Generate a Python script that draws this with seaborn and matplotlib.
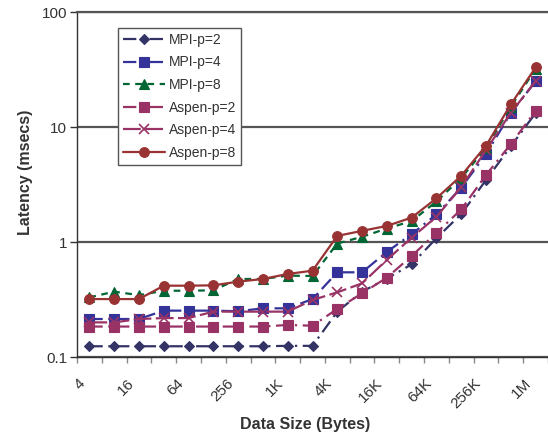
import pandas as pd
import seaborn as sns
import matplotlib.pyplot as plt
import numpy as np

# data sizes 4 bytes .. 1M (powers of two)
sizes = ['4', '8', '16', '32', '64', '128', '256', '512', '1K', '2K',
         '4K', '8K', '16K', '32K', '64K', '128K', '256K', '512K', '1M']

mpi_p2 = [0.124, 0.124, 0.124, 0.124, 0.124, 0.124, 0.124, 0.124, 0.125, 0.125,
          0.248, 0.37, 0.48, 0.64, 1.08, 1.75, 3.46, 6.8, 13.2]
mpi_p4 = [0.214, 0.214, 0.214, 0.253, 0.253, 0.253, 0.25, 0.265, 0.265, 0.319,
          0.545, 0.545, 0.82, 1.17, 1.74, 2.97, 5.8, 13.2, 25]
mpi_p8 = [0.33, 0.37, 0.345, 0.377, 0.377, 0.38, 0.477, 0.477, 0.51, 0.506,
          0.97, 1.11, 1.31, 1.52, 2.25, 3.6, 6.6, 15.0, 32]
aspen_p2 = [0.184, 0.184, 0.184, 0.184, 0.184, 0.184, 0.184, 0.184, 0.19, 0.187,
            0.262, 0.358, 0.49, 0.756, 1.2, 1.92, 3.83, 7.1, 13.8]
aspen_p4 = [0.2, 0.2, 0.214, 0.218, 0.218, 0.248, 0.248, 0.248, 0.248, 0.313,
            0.365, 0.437, 0.70, 1.09, 1.66, 3.0, 6.3, 13.3, 25]
aspen_p8 = [0.319, 0.319, 0.319, 0.417, 0.417, 0.42, 0.452, 0.477, 0.527, 0.563,
            1.13, 1.25, 1.38, 1.63, 2.4, 3.77, 6.88, 15.7, 33]

series = {'MPI-p=2': mpi_p2, 'MPI-p=4': mpi_p4, 'MPI-p=8': mpi_p8,
          'Aspen-p=2': aspen_p2, 'Aspen-p=4': aspen_p4, 'Aspen-p=8': aspen_p8}

palette = {'MPI-p=2': '#333366', 'MPI-p=4': '#333399', 'MPI-p=8': '#006633',
           'Aspen-p=2': '#993366', 'Aspen-p=4': '#993366', 'Aspen-p=8': '#993333'}
markers = {'MPI-p=2': 'D', 'MPI-p=4': 's', 'MPI-p=8': '^',
           'Aspen-p=2': 's', 'Aspen-p=4': 'x', 'Aspen-p=8': 'o'}
dashes = {'MPI-p=2': (6, 2.5, 1, 2.5), 'MPI-p=4': (6, 2.5, 1, 2.5), 'MPI-p=8': (3, 2.5),
          'Aspen-p=2': (6, 2.5, 1, 2.5), 'Aspen-p=4': (8, 2), 'Aspen-p=8': None}
msizes = {'MPI-p=2': 5, 'MPI-p=4': 6.5, 'MPI-p=8': 7,
          'Aspen-p=2': 6.5, 'Aspen-p=4': 6.5, 'Aspen-p=8': 7}

sns.set_style('white')
plt.rcParams['font.family'] = ['Liberation Sans', 'DejaVu Sans']

fig = plt.figure(figsize=(5.48, 4.40), dpi=100)
ax = fig.add_axes([77 / 548, 1 - 357 / 440, 471 / 548, 345 / 440])

pos = np.arange(len(sizes))
for name, vals in series.items():
    sns.lineplot(x=pos, y=vals, ax=ax, color=palette[name], linewidth=1.6,
                 marker=markers[name], markersize=msizes[name],
                 markeredgecolor=palette[name], markeredgewidth=1.2 if name == 'Aspen-p=4' else 0.8,
                 label=name)
    line = ax.get_lines()[-1]
    if dashes[name] is not None:
        line.set_dashes(dashes[name])

ax.set_yscale('log')
ax.set_ylim(0.1, 100)
ax.set_xlim(-0.5, len(sizes) - 0.5)

ax.set_yticks([0.1, 1, 10, 100])
ax.set_yticklabels(['0.1', '1', '10', '100'])
ax.yaxis.set_minor_locator(plt.NullLocator())
ax.tick_params(axis='y', which='major', left=True, length=5, width=1,
               color='#333333', labelsize=11, labelcolor='#333333', pad=2)

# category boundaries as ticks, labels every other category
ax.set_xticks(np.arange(len(sizes) + 1) - 0.5)
ax.set_xticklabels([''] * (len(sizes) + 1))
ax.tick_params(axis='x', which='major', bottom=True, length=4, width=1, color='#888888')
for i in range(0, len(sizes), 2):
    ax.text(i - 0.08, 0.0685, sizes[i], rotation=45, ha='right', va='top',
            fontsize=11, color='#333333')

ax.yaxis.grid(True, which='major', color='#555555', linewidth=1.6)
ax.xaxis.grid(False)
ax.spines['right'].set_visible(False)
ax.spines['top'].set_color('#555555')
ax.spines['top'].set_linewidth(1.6)
ax.spines['left'].set_color('#333333')
ax.spines['bottom'].set_color('#333333')
ax.spines['left'].set_linewidth(1)
ax.spines['bottom'].set_linewidth(1)

ax.set_xlabel('Data Size (Bytes)', fontsize=11.5, fontweight='bold', color='#333333')
ax.xaxis.set_label_coords((305 - 77) / 471, (357 - 417) / 345)
ax.set_ylabel('Latency (msecs)', fontsize=11.5, fontweight='bold', color='#333333')
ax.yaxis.set_label_coords((33 - 77) / 471, (357 - 172) / 345)

leg = ax.legend(loc='upper left', bbox_to_anchor=((118 - 77) / 471, (357 - 28) / 345),
                borderaxespad=0, fontsize=10, frameon=True, fancybox=False,
                handlelength=3.0, handletextpad=0.3, labelspacing=0.62,
                borderpad=0.35, labelcolor='#333333')
leg.get_frame().set_edgecolor('#555555')
leg.get_frame().set_linewidth(1)
leg.get_frame().set_facecolor('white')
leg.get_frame().set_alpha(1)

fig.savefig('out.png', dpi=100)
